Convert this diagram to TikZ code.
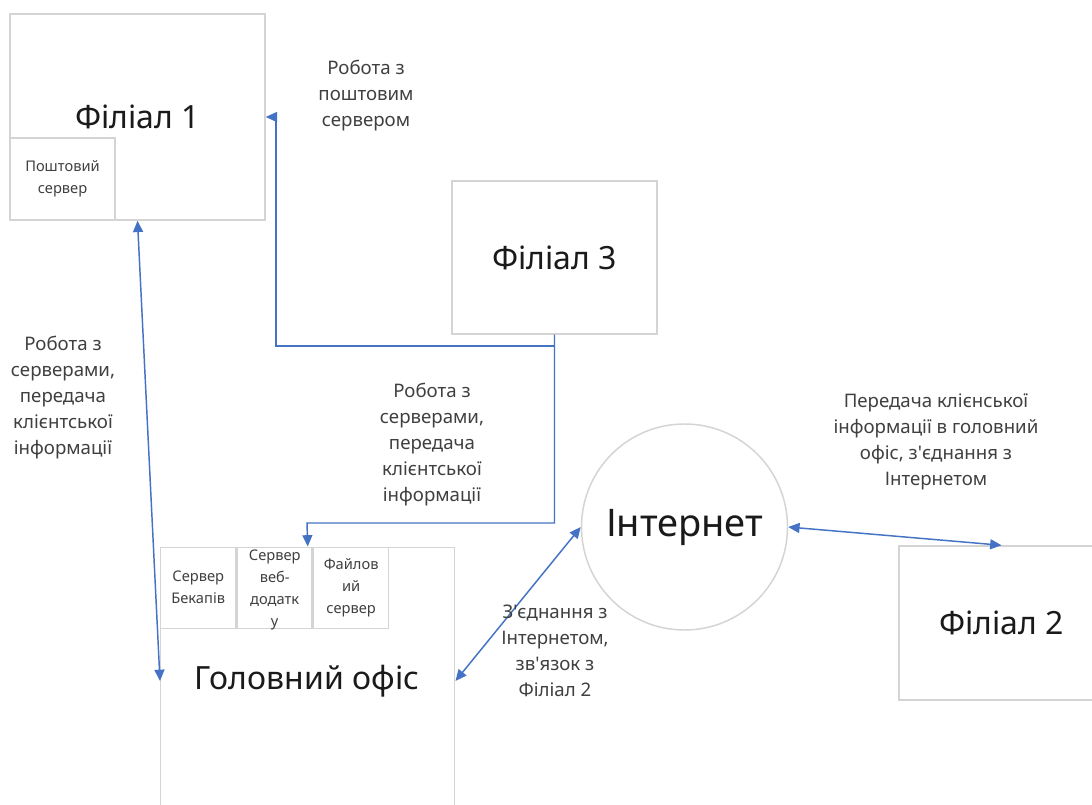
\documentclass[tikz,border=0pt]{standalone}
\usepackage{fontspec}
\setmainfont{Noto Sans}
\usetikzlibrary{arrows.meta}
\definecolor{boxgray}{HTML}{D4D4D4}
\definecolor{linkblue}{HTML}{4472C4}
\definecolor{labelgray}{HTML}{404040}
\definecolor{titleink}{HTML}{1A1A1A}
\newcommand{\apos}{\textquotesingle}

\begin{document}
\begin{tikzpicture}[x=0.75pt,y=-0.75pt,
  box/.style={draw=boxgray,line width=1.1pt,fill=white,inner sep=0pt},
  title/.style={text=titleink,font=\fontsize{24}{28}\selectfont},
  small/.style={text=labelgray,font=\fontsize{11}{16.5}\selectfont,align=center,inner sep=0pt},
  note/.style={text=labelgray,font=\fontsize{14}{19.5}\selectfont,align=center,inner sep=0pt},
  tip/.tip={Triangle[length=8.5pt,width=7.5pt]},
  link/.style={draw=linkblue,line width=1.1pt,-tip},
  both/.style={draw=linkblue,line width=1.1pt,tip-tip},
]
% page area
\useasboundingbox (0,0) rectangle (1092,805);
\fill[white] (0,0) rectangle (1092,805);

% branch 1 with its mail server
\node (f1) [box,title,minimum width=191.25pt,minimum height=154.5pt] at (137.5,117) {Філіал 1};
\node (mail) [box,small,minimum width=78.75pt,minimum height=61.5pt,anchor=south west] at (f1.south west) {Поштовий\\сервер};

% branch 3
\node (f3) [box,title,minimum width=153.75pt,minimum height=114.75pt] at (554.5,257.5) {Філіал 3};

% branch 2
\node (f2) [box,title,minimum width=153.75pt,minimum height=115.5pt] at (1001.5,623) {Філіал 2};

% head office (runs past the lower edge) with its servers
\node (ho) [box,minimum width=220.5pt,minimum height=225pt,anchor=north west] at (160,546.5) {};
\node (holabel) [title,inner sep=0pt] at (307,681) {Головний офіс};
\node (bak) [box,small,minimum width=56.25pt,minimum height=60.75pt,anchor=north west] at (ho.north west) {Сервер\\Бекапів};
\node (web) [box,minimum width=56.25pt,minimum height=60.75pt,anchor=north west] at (bak.north east) {};
\node (webtxt) [small] at ([yshift=-1.5pt]web.center) {Сервер\\веб-\\додатк\\у};
\node (file) [box,small,minimum width=56.25pt,minimum height=60.75pt,anchor=north west] at (web.north east) {Файлов\\ий\\сервер};

% internet
\node (inet) [circle,draw=boxgray,line width=1.1pt,fill=white,title,font=\fontsize{28.5}{32}\selectfont,minimum size=154.5pt] at (684.5,527) {Інтернет};

% bend points of the elbow connectors
\coordinate (mailbend) at (276,346);
\coordinate (hobend) at (307,523);

% connectors
\draw[link] (f3.south) |- (mailbend) |- (f1.east);
\draw[link] (f3.south) |- (hobend) -- (ho.north);
\draw[both] (f1.south) -- (ho.west |- holabel);
\draw[both] (ho.east |- holabel) -- (inet.west);
\draw[both] (inet.east) -- (f2.north);

% connector labels
\node (mailnote) [note] at (366,96) {Робота з\\поштовим\\сервером};
\node (leftnote) [note] at (63,398) {Робота з\\серверами,\\передача\\клієнтської\\інформації};
\node (midnote) [note] at (432,445) {Робота з\\серверами,\\передача\\клієнтської\\інформації};
\node (rightnote) [note] at (936,442) {Передача клієнської\\інформації в головний\\офіс, з\apos єднання з\\Інтернетом};
\node (netnote) [note] at (555,651) {З\apos єднання з\\Інтернетом,\\зв\apos язок з\\Філіал 2};
\end{tikzpicture}
\end{document}
